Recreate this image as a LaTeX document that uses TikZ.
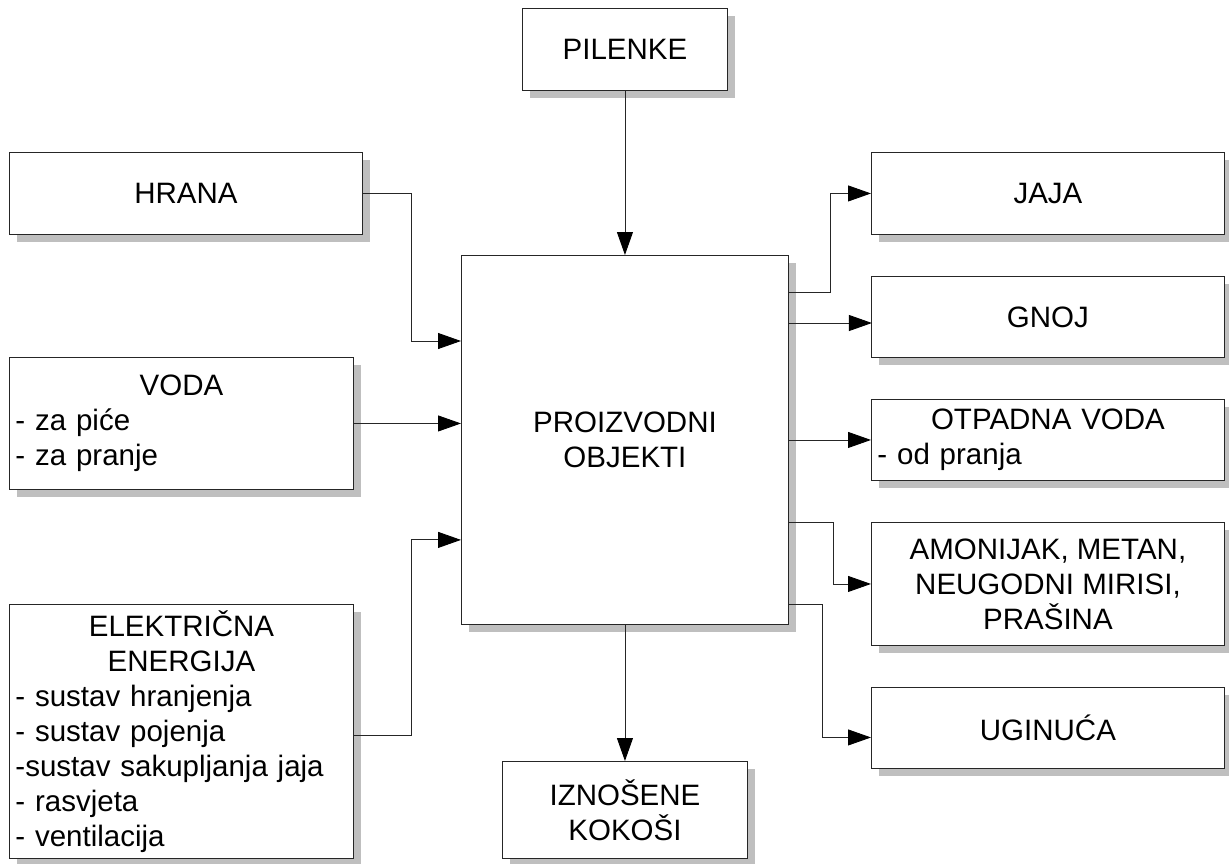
\documentclass[tikz,border=0pt]{standalone}
\usepackage{fontspec}
\setmainfont{Liberation Sans}
\usetikzlibrary{arrows.meta,positioning,shadows,calc}

\begin{document}
\begin{tikzpicture}[
        x=1pt, y=-1pt,
        font=\fontsize{29.5}{35}\selectfont,
        box/.style={
            draw=black!85,
            line width=0.9pt,
            fill=white,
            anchor=north west,
            align=center,
            inner sep=6pt,
            drop shadow={shadow xshift=8pt, shadow yshift=-8pt, fill=black!25, opacity=1}
        },
        listbox/.style={box, align=left, text width=#1},
        flow/.style={-{Triangle[length=23pt,width=16pt,black]}, line width=0.9pt, draw=black!85}
    ]

    \useasboundingbox (0,0) rectangle (1229,863);

    % ulazi
    \node[box, minimum width=205, minimum height=82] (pilenke) at (522,8) {PILENKE};
    \node[box, minimum width=327, minimum height=369] (objekti) at (461,255) {PROIZVODNI\\OBJEKTI};
    \node[box, minimum width=353, minimum height=82] (hrana) at (9,152) {HRANA};
    \node[listbox=332, minimum width=344, minimum height=132] (voda) at (9,357)
        {\makebox[\linewidth]{VODA}\\- za piće\\- za pranje};
    \node[listbox=332, minimum width=344, minimum height=254] (struja) at (9,604)
        {\makebox[\linewidth]{ELEKTRIČNA}\\\makebox[\linewidth]{ENERGIJA}\\- sustav hranjenja\\- sustav pojenja\\-sustav sakupljanja jaja\\- rasvjeta\\- ventilacija};

    % izlazi
    \node[box, minimum width=353, minimum height=82] (jaja) at (871,152) {JAJA};
    \node[box, minimum width=353, minimum height=81] (gnoj) at (871,276) {GNOJ};
    \node[listbox=341, minimum width=353, minimum height=81] (otpadna) at (871,399)
        {\makebox[\linewidth]{OTPADNA VODA}\\- od pranja};
    \node[box, minimum width=353, minimum height=123] (plinovi) at (871,522) {AMONIJAK, METAN,\\NEUGODNI MIRISI,\\PRAŠINA};
    \node[box, minimum width=353, minimum height=81] (uginuca) at (871,687) {UGINUĆA};
    \node[box, minimum width=245, minimum height=97] (kokosi) at (502,761) {IZNOŠENE\\KOKOŠI};

    \draw[flow] (pilenke) -- (objekti);
    \draw[flow] (hrana.east) -- ++(49,0) |- ($(objekti.north west)+(0,86)$);
    \draw[flow] (voda) -- (voda -| objekti.west);
    \draw[flow] ([yshift=-4pt]struja.east) -- ++(58,0) |- ($(objekti.south west)+(0,-85)$);

    \draw[flow] ($(objekti.north east)+(0,37)$) -- ++(42,0) |- (jaja.west);
    \draw[flow] ($(objekti.north east)+(0,68)$) -- ++(83,0);
    \draw[flow] (otpadna.west -| objekti.east) -- (otpadna.west);
    \draw[flow] ($(objekti.south east)+(0,-102)$) -- ++(45,0) |- (plinovi.west);
    \draw[flow] ($(objekti.south east)+(0,-20)$) -- ++(34,0) |- ([yshift=-9.5pt]uginuca.west);
    \draw[flow] (objekti) -- (kokosi);

\end{tikzpicture}
\end{document}
